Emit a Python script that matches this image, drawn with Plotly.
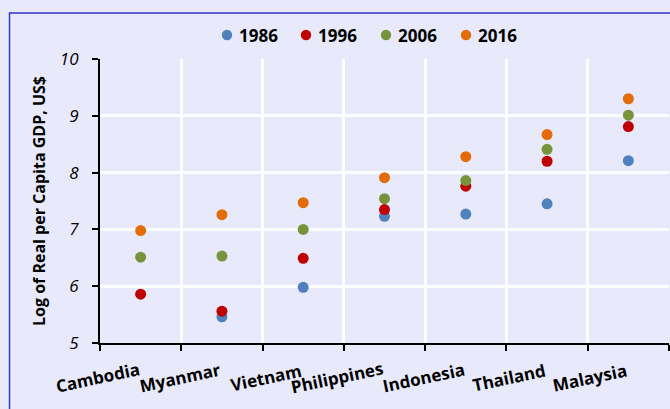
import plotly.graph_objects as go

countries = ["Cambodia", "Myanmar", "Vietnam", "Philippines", "Indonesia", "Thailand", "Malaysia"]
years = ["1986", "1996", "2006", "2016"]
v1986 = [None, 5.46, 5.98, 7.23, 7.27, 7.45, 8.21]
v1996 = [5.86, 5.56, 6.49, 7.35, 7.76, 8.20, 8.81]
v2006 = [6.51, 6.53, 7.00, 7.54, 7.86, 8.41, 9.01]
v2016 = [6.98, 7.26, 7.47, 7.91, 8.28, 8.67, 9.30]
series = [v1986, v1996, v2006, v2016]
colors = ["#4f81bd", "#c00000", "#77933c", "#e36c09"]

FONT = "Open Sans"
BG = "#e8eafb"
W, H = 670, 409
L, R, T, B = 100, 1, 59, 66
PW, PH = W - L - R, H - T - B


def px_x(p):
    return (p - L) / PW


def px_y(p):
    return 1 - (p - T) / PH


fig = go.Figure()
for name, vals, col in zip(years, series, colors):
    fig.add_trace(go.Scatter(
        x=countries, y=vals, mode="markers", name=name, showlegend=False,
        marker=dict(color=col, size=11, line=dict(width=0)),
    ))

fig.update_layout(
    width=W, height=H,
    margin=dict(l=L, r=R, t=T, b=B),
    paper_bgcolor=BG, plot_bgcolor=BG,
    font=dict(family=FONT, color="black"),
    xaxis=dict(type="category", tickson="boundaries", showgrid=True, gridcolor="white", gridwidth=2.5,
               showline=True, linecolor="black", linewidth=2, ticks="outside", ticklen=6,
               tickcolor="black", tickwidth=2, showticklabels=False, range=[-0.5, 6.5]),
    yaxis=dict(range=[5, 10], dtick=1, showgrid=True, gridcolor="white", gridwidth=2.5,
               showline=True, linecolor="black", linewidth=2, ticks="outside", ticklen=6,
               tickcolor="black", tickwidth=2, zeroline=False, ticklabelstandoff=10,
               tickfont=dict(family=FONT, size=17, style="italic"),
               title=dict(text="Log of Real per Capita GDP, US$", standoff=10,
                          font=dict(family=FONT, size=16, weight="bold"))),
)

# category labels, rotated and right-aligned at each category centre
for c in countries:
    fig.add_annotation(x=c, xref="x", y=px_y(377), yref="paper", text=c, showarrow=False,
                       textangle=-12, xanchor="right", yanchor="middle", xshift=3,
                       font=dict(family=FONT, size=17, weight="bold"))

# legend
leg_marker_px = [227, 306, 386, 466]
for name, col, mx in zip(years, colors, leg_marker_px):
    r = 5.2
    fig.add_shape(type="circle", xref="paper", yref="paper",
                  x0=px_x(mx - r), x1=px_x(mx + r), y0=px_y(35 + r), y1=px_y(35 - r),
                  fillcolor=col, line=dict(width=0))
    fig.add_annotation(x=px_x(mx + 10), xref="paper", y=px_y(35), yref="paper", text=name,
                       showarrow=False, xanchor="left", yanchor="middle",
                       font=dict(family=FONT, size=17, weight="bold"))

fig.add_shape(type="rect", xref="paper", yref="paper",
              x0=px_x(9.5), x1=1.2, y0=-0.5, y1=px_y(13),
              line=dict(color="#3535cc", width=1.5), fillcolor="rgba(0,0,0,0)", layer="below")

fig.write_html("out.html", config={"displayModeBar": False},
               post_script="document.body.style.margin='0';")
